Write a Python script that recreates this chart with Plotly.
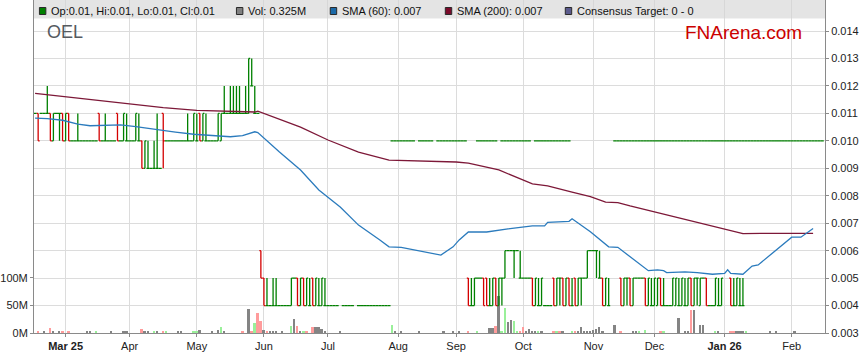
import plotly.graph_objects as go
import pandas as pd

N = None

# ---------------- sessions on the category (trading-day) axis ----------------
first_day = "2025-02-17"
last_day = "2026-02-16"
missing_days = ["2025-08-14", "2025-08-15"]
sessions = [d.strftime("%Y-%m-%d") for d in pd.bdate_range(first_day, last_day)
            if d.strftime("%Y-%m-%d") not in missing_days]

month_ticks = ["2025-03-03", "2025-04-01", "2025-05-01", "2025-06-02", "2025-07-01", "2025-08-01",
               "2025-09-01", "2025-10-01", "2025-11-03", "2025-12-01", "2026-01-01", "2026-02-02"]
month_labels = ["<b>Mar 25</b>", "Apr", "May", "Jun", "Jul", "Aug", "Sep", "Oct", "Nov", "Dec",
                "<b>Jan 26</b>", "Feb"]

# ---------------- OHLC, in thousandths of a dollar (one entry per session) ----------------
open_k = [
    11, 11, 11, 11, 11, 11, 10, 11, 11, 11,
    10, 11, 10, 10, 10, 10, 10, 10, 10, 10,
    10, 11, 10, 10, 10, 10, 10, 11, 10, 10,
    10, 10, 10, 10, 10, 10, 9, 9, 9, 9,
    9, 9, 11, 10, 10, 10, 10, 10, 10, 10,
    10, 10, 10, 10, 11, 10, 10, 10, 10, 10,
    10, 10, 11, 11, 11, 11, 11, 11, 11, 11,
    11, 12, 11, 11, 6, 5, 4, 4, 4, 4,
    4, 4, 4, 4, 4, 5, 5, 4, 5, 4,
    4, 5, 4, 4, 4, 4, 4, 4, 4, 4,
    N, 4, 4, 4, 4, N, 4, 4, 4, 4,
    4, 4, 4, 4, 4, 4, 4, N, N, N,
    N, N, N, N, N, N, N, N, N, N,
    N, N, N, N, N, N, N, N, N, N,
    N, N, 5, 4, 4, 5, 5, 5, 5, 4,
    4, 5, 4, 5, 5, 6, 6, 6, 6, 5,
    5, 5, 5, 5, 4, 4, 4, 4, 4, 4,
    5, 4, 5, 5, 4, 5, 4, 5, 4, 5,
    5, 5, 6, 6, 6, 5, 5, 4, 4, N,
    N, N, 5, 4, 5, 5, 4, 5, 5, 5,
    5, 4, 4, 4, 4, 5, 4, 4, 4, 4,
    4, 4, 4, 4, 4, 5, 4, 5, 4, 5,
    5, 4, 4, 4, 4, 4, N, N, 5, 4,
    4, 4, 4, N, N, N, N, N, N, N,
    N, N, N, N, N, N, N, N, N, N,
    N, N, N, N, N, N, N, N, N]
high_k = [
    11, 11, 11, 11, 12, 11, 11, 11, 11, 11,
    11, 11, 10, 10, 11, 10, 10, 10, 10, 10,
    10, 11, 10, 11, 10, 10, 10, 11, 10, 11,
    11, 10, 10, 11, 11, 10, 10, 10, 9, 10,
    11, 9, 11, 10, 10, 10, 10, 10, 10, 10,
    11, 10, 11, 11, 11, 11, 11, 10, 10, 10,
    11, 11, 12, 11, 12, 12, 12, 12, 11, 12,
    13, 13, 12, 11, 6, 5, 5, 4, 5, 5,
    4, 4, 4, 4, 5, 5, 5, 5, 5, 5,
    5, 5, 5, 5, 5, 5, 4, 4, 4, 4,
    N, 4, 4, 4, 4, N, 4, 4, 4, 4,
    4, 4, 4, 4, 4, 4, 4, N, N, N,
    N, N, N, N, N, N, N, N, N, N,
    N, N, N, N, N, N, N, N, N, N,
    N, N, 5, 5, 5, 5, 5, 5, 5, 5,
    5, 5, 5, 5, 6, 6, 6, 6, 6, 6,
    5, 5, 5, 5, 5, 5, 5, 4, 4, 4,
    5, 5, 5, 5, 5, 5, 5, 5, 5, 5,
    5, 6, 6, 6, 6, 6, 5, 5, 5, N,
    N, N, 5, 5, 5, 5, 5, 5, 5, 5,
    5, 5, 5, 5, 5, 5, 5, 4, 4, 5,
    5, 5, 5, 5, 5, 5, 5, 5, 5, 5,
    5, 4, 4, 5, 5, 5, N, N, 5, 5,
    5, 5, 5, N, N, N, N, N, N, N,
    N, N, N, N, N, N, N, N, N, N,
    N, N, N, N, N, N, N, N, N]
low_k = [
    11, 10, 11, 11, 11, 10, 10, 11, 10, 10,
    10, 10, 10, 10, 10, 10, 10, 10, 10, 10,
    10, 10, 10, 10, 10, 10, 10, 10, 10, 10,
    10, 10, 10, 10, 10, 9, 9, 9, 9, 9,
    9, 9, 9, 10, 10, 10, 10, 10, 10, 10,
    10, 10, 10, 10, 10, 10, 10, 10, 10, 10,
    10, 10, 11, 11, 11, 11, 11, 11, 11, 11,
    11, 12, 11, 11, 5, 4, 4, 4, 4, 4,
    4, 4, 4, 4, 4, 5, 4, 4, 4, 4,
    4, 4, 4, 4, 4, 4, 4, 4, 4, 4,
    N, 4, 4, 4, 4, N, 4, 4, 4, 4,
    4, 4, 4, 4, 4, 4, 4, N, N, N,
    N, N, N, N, N, N, N, N, N, N,
    N, N, N, N, N, N, N, N, N, N,
    N, N, 4, 4, 4, 5, 5, 4, 4, 4,
    4, 4, 4, 4, 5, 6, 6, 5, 6, 5,
    5, 5, 5, 4, 4, 4, 4, 4, 4, 4,
    4, 4, 4, 4, 4, 4, 4, 4, 4, 4,
    5, 5, 6, 6, 5, 5, 4, 4, 4, N,
    N, N, 4, 4, 4, 4, 4, 5, 5, 5,
    4, 4, 4, 4, 4, 4, 4, 4, 4, 4,
    4, 4, 4, 4, 4, 4, 4, 4, 4, 5,
    4, 4, 4, 4, 4, 4, N, N, 4, 4,
    4, 4, 4, N, N, N, N, N, N, N,
    N, N, N, N, N, N, N, N, N, N,
    N, N, N, N, N, N, N, N, N]
close_k = [
    11, 10, 11, 11, 11, 10, 11, 11, 11, 10,
    11, 10, 10, 10, 10, 10, 10, 10, 10, 10,
    10, 10, 10, 10, 10, 10, 10, 10, 10, 11,
    10, 10, 10, 11, 10, 9, 10, 9, 9, 9,
    9, 9, 10, 10, 10, 10, 10, 10, 10, 10,
    10, 10, 11, 10, 10, 11, 10, 10, 10, 10,
    11, 11, 11, 11, 11, 11, 11, 11, 11, 11,
    13, 12, 11, 11, 5, 4, 4, 4, 4, 4,
    4, 4, 4, 4, 5, 5, 4, 5, 4, 5,
    4, 4, 5, 4, 5, 4, 4, 4, 4, 4,
    N, 4, 4, 4, 4, N, 4, 4, 4, 4,
    4, 4, 4, 4, 4, 4, 4, N, N, N,
    N, N, N, N, N, N, N, N, N, N,
    N, N, N, N, N, N, N, N, N, N,
    N, N, 4, 4, 5, 5, 5, 4, 4, 4,
    5, 4, 5, 5, 6, 6, 6, 6, 6, 5,
    5, 5, 5, 4, 5, 4, 5, 4, 4, 4,
    4, 5, 5, 4, 5, 4, 4, 4, 5, 5,
    5, 6, 6, 6, 6, 5, 4, 5, 4, N,
    N, N, 4, 5, 5, 4, 5, 5, 5, 5,
    4, 5, 4, 5, 5, 4, 4, 4, 4, 5,
    5, 4, 5, 4, 5, 4, 5, 5, 5, 5,
    4, 4, 4, 5, 4, 5, N, N, 4, 4,
    5, 4, 4, N, N, N, N, N, N, N,
    N, N, N, N, N, N, N, N, N, N,
    N, N, N, N, N, N, N, N, N]

# second (flat) price record at 0.010 shown from late July onwards
flat_k = [
    N, N, N, N, N, N, N, N, N, N,
    N, N, N, N, N, N, N, N, N, N,
    N, N, N, N, N, N, N, N, N, N,
    N, N, N, N, N, N, N, N, N, N,
    N, N, N, N, N, N, N, N, N, N,
    N, N, N, N, N, N, N, N, N, N,
    N, N, N, N, N, N, N, N, N, N,
    N, N, N, N, N, N, N, N, N, N,
    N, N, N, N, N, N, N, N, N, N,
    N, N, N, N, N, N, N, N, N, N,
    N, N, N, N, N, N, N, N, N, N,
    N, N, N, N, N, N, N, 10, 10, 10,
    10, 10, 10, 10, 10, N, 10, 10, 10, 10,
    10, N, 10, 10, 10, 10, 10, 10, 10, 10,
    10, 10, N, N, N, 10, 10, 10, 10, 10,
    10, 10, N, 10, 10, 10, 10, 10, 10, 10,
    10, 10, 10, N, 10, 10, 10, 10, 10, 10,
    10, 10, 10, 10, 10, 10, N, N, N, N,
    N, N, N, N, N, N, N, N, N, N,
    10, 10, 10, 10, 10, 10, 10, 10, 10, 10,
    10, 10, 10, 10, 10, 10, 10, 10, 10, 10,
    10, 10, 10, 10, 10, 10, 10, 10, 10, 10,
    10, 10, 10, 10, 10, 10, 10, 10, 10, 10,
    10, 10, 10, 10, 10, 10, 10, 10, 10, 10,
    10, 10, 10, 10, 10, 10, 10, 10, 10, 10,
    10, 10, 10, 10, 10, 10, 10, 10, 10]

# ---------------- volume (millions) and direction (1 up, -1 down, 0 unchanged) ----------------
volume_m = [
    0, 3, 0, 2, 0, 9.5, 4, 0, 3, 2,
    0, 2, 0, 0, 0, 0, 0, 2, 2, 0,
    2, 0, 0, 0, 0, 2, 0, 0, 0, 2,
    2, 0, 0, 0, 0, 8, 2, 4, 0, 4,
    4, 0, 3, 3, 0, 0, 0, 2, 4, 0,
    0, 0, 2, 2, 5.5, 0, 0, 0, 2, 0,
    6, 11.5, 2, 0, 0, 0, 0, 0, 3, 0,
    44, 3, 17.5, 36, 21, 5, 3, 2, 2, 2,
    0, 2, 0, 0, 12, 26, 13, 2, 2, 3,
    0, 11, 11, 11, 8, 2, 0, 0, 0, 0,
    2, 0, 0, 0, 0, 0, 0, 0, 0, 0,
    0, 0, 0, 0, 0, 0, 0, 14.5, 4, 0,
    2, 0, 0, 0, 0, 0, 2, 0, 0, 0,
    0, 0, 0, 0, 2, 0, 0, 4, 0, 2,
    0, 0, 4, 0, 0, 2, 0, 0, 0, 8.5,
    8.5, 12, 67, 3, 45, 19, 24, 22, 3, 3,
    11, 2, 8, 2, 2, 2, 2, 0, 0, 0,
    3, 2, 3, 2, 0, 0, 2, 3, 4, 11,
    3, 3, 4, 5, 7, 11, 2, 0, 0, 0,
    14.5, 0, 2, 0, 0, 0, 2, 2, 2, 0,
    5, 0, 0, 0, 0, 2, 3, 0, 0, 0,
    0, 27, 0, 2, 2, 42, 42, 0, 14.5, 14.5,
    0, 0, 0, 2, 2, 0, 0, 0, 2, 2,
    2, 2, 2, 3, 0, 0, 0, 0, 0, 0,
    0, 2, 0, 2, 0, 0, 0, 0, 0, 2,
    0, 0, 0, 0, 0, 0, 0, 0, 0]
volume_dir = [
    0, -1, 0, 0, 0, -1, 0, 0, 0, -1,
    0, -1, 0, 0, 0, 0, 0, 0, 0, 0,
    1, 0, 0, 0, 0, 0, 0, 0, 0, 0,
    0, 0, 0, 0, 0, -1, 0, 0, 0, 1,
    0, 0, -1, 1, 0, 0, 0, 0, 0, 0,
    0, 0, 1, 1, 0, 0, 0, 0, 0, 0,
    0, 1, 0, 0, 0, 0, 0, 0, -1, 0,
    0, -1, 1, -1, -1, 0, -1, 0, 0, 0,
    0, 0, 0, 0, 1, 0, -1, 0, 1, -1,
    0, -1, 0, 0, 0, 0, 0, 0, 0, 0,
    0, 0, 0, 0, 0, 0, 0, 0, 0, 0,
    0, 0, 0, 0, 0, 0, 0, 1, 0, 0,
    0, 0, 0, 0, 0, 0, 0, 0, 0, 0,
    0, 0, 0, 0, 0, 0, 0, 0, 0, 0,
    0, 0, -1, 0, 0, 1, 0, 0, 0, 0,
    0, -1, 0, 1, 1, 0, 0, 1, 1, -1,
    -1, 0, 0, 0, 0, 1, 0, 0, 0, 0,
    -1, 1, -1, 0, 0, 0, 1, -1, 0, 0,
    0, 0, 0, 0, 0, 0, 0, 0, 0, 0,
    0, 0, -1, 0, 0, 0, 0, 0, 1, 0,
    1, 0, 0, 0, 0, -1, 1, 0, 0, 0,
    0, 0, 0, 0, 0, -1, 0, 0, 0, 0,
    0, 0, 0, 1, 0, 0, 0, 0, -1, -1,
    0, 0, 0, 1, 0, 0, 0, 0, 0, 0,
    0, 0, 0, 0, 0, 0, 0, 0, 0, 0,
    0, 0, 0, 0, 0, 0, 0, 0, 0]

# ---------------- moving averages (read at sample sessions) ----------------
sma60_dates = ["2025-02-17", "2025-02-21", "2025-02-28", "2025-03-07", "2025-03-13", "2025-03-21",
               "2025-03-27", "2025-04-03", "2025-04-14", "2025-04-22", "2025-04-30", "2025-05-07",
               "2025-05-16", "2025-05-22", "2025-05-28", "2025-05-29", "2025-06-09", "2025-06-18",
               "2025-06-26", "2025-07-07", "2025-07-15", "2025-07-24", "2025-07-29", "2025-08-04",
               "2025-08-12", "2025-08-25", "2025-08-29", "2025-09-02", "2025-09-05", "2025-09-15",
               "2025-09-24", "2025-10-06", "2025-10-10", "2025-10-13", "2025-10-22", "2025-10-23",
               "2025-10-31", "2025-11-10", "2025-11-13", "2025-11-19", "2025-11-27", "2025-12-02",
               "2025-12-04", "2025-12-05", "2025-12-15", "2025-12-19", "2025-12-26", "2026-01-01",
               "2026-01-02", "2026-01-05", "2026-01-09", "2026-01-14", "2026-01-16", "2026-02-02",
               "2026-02-05", "2026-02-11"]
sma60_values = [0.01083, 0.01081, 0.01075, 0.01061, 0.01055, 0.01057, 0.01058, 0.01052, 0.01040,
                0.01032, 0.01024, 0.01020, 0.01015, 0.01019, 0.01033, 0.01030, 0.00960, 0.00894,
                0.00821, 0.00759, 0.00693, 0.00639, 0.00614, 0.00612, 0.00600, 0.00584, 0.00614,
                0.00639, 0.00668, 0.00668, 0.00679, 0.00690, 0.00690, 0.00703, 0.00707, 0.00716,
                0.00669, 0.00614, 0.00612, 0.00578, 0.00527, 0.00530, 0.00527, 0.00520, 0.00523,
                0.00520, 0.00514, 0.00517, 0.00530, 0.00517, 0.00514, 0.00544, 0.00548, 0.00649,
                0.00649, 0.00681]
sma200_dates = ["2025-02-17", "2025-03-03", "2025-03-18", "2025-04-01", "2025-04-16", "2025-05-01",
                "2025-05-16", "2025-05-28", "2025-05-29", "2025-06-09", "2025-06-18", "2025-07-01",
                "2025-07-15", "2025-07-29", "2025-08-12", "2025-09-01", "2025-09-05", "2025-09-19",
                "2025-10-06", "2025-10-13", "2025-10-23", "2025-10-31", "2025-11-07", "2025-11-13",
                "2025-11-19", "2025-12-02", "2025-12-12", "2025-12-23", "2026-01-02", "2026-01-09",
                "2026-01-19", "2026-02-11"]
sma200_values = [0.01173, 0.01161, 0.01148, 0.01134, 0.01121, 0.01111, 0.01108, 0.01105, 0.01108,
                 0.01078, 0.01050, 0.01003, 0.00959, 0.00930, 0.00927, 0.00923, 0.00919, 0.00894,
                 0.00843, 0.00836, 0.00813, 0.00797, 0.00777, 0.00775, 0.00763, 0.00738, 0.00718,
                 0.00697, 0.00675, 0.00662, 0.00663, 0.00663]

price_ticks = [0.003, 0.004, 0.005, 0.006, 0.007, 0.008, 0.009, 0.010, 0.011, 0.012, 0.013, 0.014]
volume_ticks = [0, 50, 100]
volume_tick_labels = ["0M", "50M", "100M"]

legend_texts = ["Op:0.01, Hi:0.01, Lo:0.01, Cl:0.01", "Vol: 0.325M", "SMA (60): 0.007",
                "SMA (200): 0.007", "Consensus Target: 0 - 0"]

# ---------------- styles ----------------
UP = "#008000"
DOWN = "#d40000"
VOL_COL = {1: "#9af09a", -1: "#ff9c9c", 0: "#848484"}
SMA60_COL = "#2b7bbd"
SMA200_COL = "#7d1838"
LEG_COLORS = [UP, "#808080", "#1c6aa8", "#7a0a2a", "#5a5a8c"]
LEG_BOX_PX = [35.5, 235, 330, 446.5, 568]
FONT = "Arial, Liberation Sans, sans-serif"

W, H = 859, 363
ML, MR, MT, MB = 30, 28, 0, 30
PW, PH = W - ML - MR, H - MT - MB


def px_x(px):
    return (px - ML) / PW


def px_y(py):
    return (MT + PH - py) / PH


pos = {d: i for i, d in enumerate(sessions)}
idx = list(range(len(sessions)))

fig = go.Figure()

# volume (base axis, drawn underneath)
fig.add_trace(go.Bar(
    x=idx, y=volume_m, yaxis="y",
    marker=dict(color=[VOL_COL[d] for d in volume_dir], line=dict(width=0)),
    width=0.62, hoverinfo="skip", showlegend=False))


def ohlc(ids, o, h, l, c, color):
    return go.Ohlc(
        x=ids, open=[o[i] / 1000 for i in ids], high=[h[i] / 1000 for i in ids],
        low=[l[i] / 1000 for i in ids], close=[c[i] / 1000 for i in ids],
        increasing=dict(line=dict(color=color, width=1.3)),
        decreasing=dict(line=dict(color=color, width=1.3)),
        tickwidth=0.5, yaxis="y2", hoverinfo="skip", showlegend=False)


have = [i for i in idx if open_k[i] is not None]
up_ids = [i for i in have if close_k[i] >= open_k[i]]
down_ids = [i for i in have if close_k[i] < open_k[i]]
flat_ids = [i for i in idx if flat_k[i] is not None]

fig.add_trace(ohlc(flat_ids, flat_k, flat_k, flat_k, flat_k, UP))
fig.add_trace(ohlc(up_ids, open_k, high_k, low_k, close_k, UP))
fig.add_trace(ohlc(down_ids, open_k, high_k, low_k, close_k, DOWN))

fig.add_trace(go.Scatter(x=[pos[d] for d in sma200_dates], y=sma200_values, yaxis="y2",
                         mode="lines", line=dict(color=SMA200_COL, width=1.3),
                         hoverinfo="skip", showlegend=False))
fig.add_trace(go.Scatter(x=[pos[d] for d in sma60_dates], y=sma60_values, yaxis="y2",
                         mode="lines", line=dict(color=SMA60_COL, width=1.3),
                         hoverinfo="skip", showlegend=False))

axis_common = dict(showline=True, linecolor="#8a8a8a", linewidth=1, ticks="outside", ticklen=3,
                   tickcolor="#8a8a8a", zeroline=False,
                   tickfont=dict(family=FONT, size=11, color="#222222"))

fig.update_layout(
    width=W, height=H,
    margin=dict(l=ML, r=MR, t=MT, b=MB, pad=0),
    paper_bgcolor="white", plot_bgcolor="white",
    showlegend=False, bargap=0,
    xaxis=dict(range=[-0.36, len(sessions) - 0.1], tickmode="array",
               tickvals=[pos[d] for d in month_ticks], ticktext=month_labels,
               showgrid=True, gridcolor="#dcdcdc", gridwidth=1,
               rangeslider=dict(visible=False), **axis_common),
    yaxis=dict(range=[0, 602], side="left", tickmode="array", tickvals=volume_ticks,
               ticktext=volume_tick_labels, showgrid=False, **axis_common),
    yaxis2=dict(range=[0.003, 0.015131], side="right", overlaying="y", tickmode="array",
                tickvals=price_ticks, tickformat=".3f", showgrid=True, gridcolor="#dcdcdc",
                gridwidth=1, **axis_common),
)

shapes = [dict(type="rect", xref="paper", yref="paper", x0=0, x1=1, y0=px_y(18.5), y1=1,
               fillcolor="rgba(212,212,212,0.62)", line=dict(width=0), layer="above")]
annotations = []
for text, col, bx in zip(legend_texts, LEG_COLORS, LEG_BOX_PX):
    shapes.append(dict(type="rect", xref="paper", yref="paper", x0=px_x(bx), x1=px_x(bx + 6.5),
                       y0=px_y(14.5), y1=px_y(7.5), fillcolor=col,
                       line=dict(color="#2a2a2a", width=1), layer="above"))
    annotations.append(dict(text=text, xref="paper", yref="paper", x=px_x(bx + 10), y=px_y(11),
                            xanchor="left", yanchor="middle", showarrow=False,
                            font=dict(family=FONT, size=11, color="#111111")))

annotations.append(dict(text="OEL", xref="paper", yref="paper", x=px_x(41), y=px_y(31.5),
                        xanchor="left", yanchor="middle", showarrow=False,
                        font=dict(family=FONT, size=18, color="#555a5f")))
annotations.append(dict(text="FNArena.com", xref="paper", yref="paper", x=px_x(810), y=px_y(33),
                        xanchor="right", yanchor="middle", showarrow=False,
                        font=dict(family=FONT, size=19, color="#cc0000")))

fig.update_layout(shapes=shapes, annotations=annotations)

fig.write_html("out.html", include_plotlyjs=True, config={"displayModeBar": False},
               post_script="document.body.style.margin='0px';document.body.style.padding='0px';"
                           "document.body.style.overflow='hidden';")
